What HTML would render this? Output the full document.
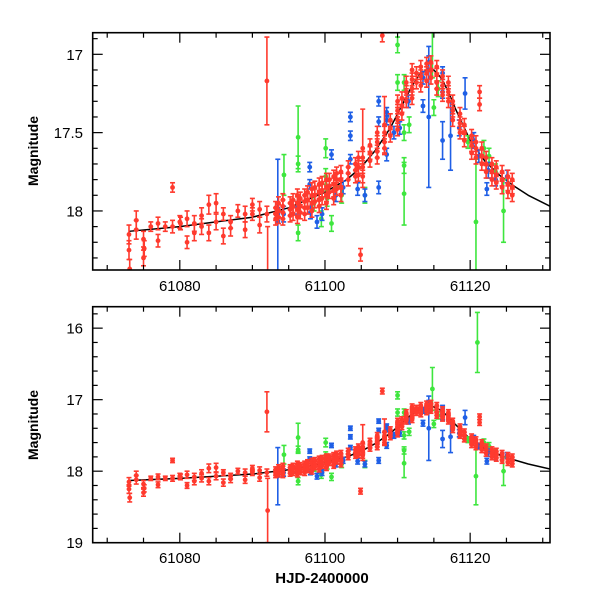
<!DOCTYPE html>
<html><head><meta charset="utf-8"><style>
html,body{margin:0;padding:0;background:#fff}
svg{display:block}
text{font-family:"Liberation Sans",sans-serif;fill:#000}
</style></head><body>
<svg id="chart" width="600" height="600" viewBox="0 0 600 600" xmlns="http://www.w3.org/2000/svg">
<defs>
<clipPath id="clipTop"><rect x="92.7" y="32.7" width="457.3" height="237.3"/></clipPath>
<clipPath id="clipBot"><rect x="92.7" y="306.7" width="457.3" height="236"/></clipPath>
</defs>
</svg>
<script>
// ---- data ----
const curveT=[61073,61080,61085,61090,61095,61100,61103,61105,61107,61109,61110,61111,61112,61113,61114,61115,61116,61117,61118,61119,61120,61122,61124,61126,61128,61131];
const curveM=[18.13,18.10,18.07,18.04,17.98,17.88,17.80,17.72,17.61,17.47,17.38,17.29,17.2,17.13,17.1,17.1,17.15,17.24,17.35,17.45,17.55,17.68,17.77,17.84,17.9,17.97];
const redT=[61073,61073,61073.1,61074,61074,61075,61075,61075.1,61076,61077,61077,61078,61079,61079,61080,61080.1,61081,61081,61082,61082,61083,61083,61084,61084,61085,61085,61086,61086,61087,61087,61088,61089,61089,61090,61090,61091,61091,61092,61092,61092.1,
61093.2,61093.2,61093.2,61093.6,61093.6,61093.6,61094.2,61094.2,61094.2,61094.2,61095.2,61095.2,61095.2,61095.6,61095.6,61095.6,61096.2,61096.2,61096.2,61096.2,61096.6,61096.6,61096.6,61097.2,61097.2,61097.2,61097.2,61097.6,61097.6,61097.6,61098.2,61098.2,61098.2,61098.2,61098.6,61098.6,61098.6,61099.2,61099.2,61099.2,61099.2,61099.6,61099.6,61099.6,61100.2,61100.2,61100.2,61100.2,61100.6,61100.6,61100.6,61101.2,61101.2,61101.2,61101.2,61101.6,61101.6,61101.6,61102.2,61102.2,61102.2,61102.2,61103.2,61103.2,61103.2,61104.2,61104.2,61104.2,61104.6,61104.6,61104.6,61104.9,61105.2,61105.2,61105.2,61105.2,61106.2,61106.2,61106.2,61107.2,61107.2,61107.2,61107.2,61107.9,61108.2,61108.2,61108.2,61108.2,61109,61109,61109,61110,61110,61110,61110,61110.6,61110.6,61110.6,61111.2,61111.2,61111.2,61112,61112,61112,61112,61112.6,61112.6,61113.2,61113.2,61113.2,61114,61114,61114,61114.6,61114.6,61114.6,61115.4,61115.4,61115.4,61115.4,61116.2,61116.2,61116.2,61117,61117,61117,61117.6,61117.6,61117.6,61118.6,61118.6,61118.6,61119.2,61119.2,61119.2,61120.2,61120.2,61120.2,61120.8,61120.8,61120.8,61121.3,61121.3,61121.6,61121.6,61121.6,61122.2,61122.2,61122.2,61123,61123,61123,61123.6,61123.6,61123.6,61124.4,61124.4,61124.4,61125.2,61125.2,61125.2,61125.8,61125.8,61125.8];
const redM=[18.15,18.25,18.37,18.06,18.12,18.18,18.3,18.24,18.1,18.08,18.19,18.1,17.85,18.1,18.07,18.08,18.2,18.05,18.14,18.08,18.03,18.1,17.96,18.14,17.95,18.07,18.02,18.16,18.07,18.11,18.0,18.02,18.12,17.96,18.02,17.99,18.09,17.17,18.02,18.55,
17.98,18.02,18.05,17.95,18.0,18.04,17.93,17.97,18.01,18.05,17.95,17.99,18.03,17.93,17.97,18.02,17.9,17.95,17.99,18.04,17.92,17.97,18.01,17.9,17.94,17.98,18.02,17.88,17.93,17.98,17.86,17.9,17.95,18.0,17.85,17.9,17.94,17.83,17.88,17.93,17.97,17.82,17.87,17.92,17.8,17.85,17.9,17.95,17.8,17.84,17.88,17.78,17.83,17.87,17.92,17.76,17.8,17.86,17.75,17.8,17.85,17.9,17.72,17.76,17.8,17.7,17.74,17.78,17.66,17.72,17.77,18.28,17.6,17.66,17.72,17.78,17.58,17.63,17.68,17.5,17.56,17.62,17.66,16.88,17.45,17.5,17.56,17.6,17.42,17.47,17.52,17.3,17.36,17.42,17.48,17.28,17.33,17.38,17.18,17.24,17.3,17.1,17.16,17.22,17.28,17.12,17.18,17.08,17.14,17.2,17.06,17.12,17.17,17.05,17.1,17.15,17.08,17.13,17.18,17.22,17.14,17.2,17.26,17.18,17.24,17.3,17.3,17.36,17.42,17.38,17.44,17.5,17.45,17.5,17.55,17.52,17.58,17.63,17.56,17.6,17.66,17.24,17.32,17.6,17.65,17.7,17.66,17.7,17.75,17.7,17.75,17.8,17.72,17.77,17.82,17.75,17.8,17.85,17.78,17.83,17.88,17.8,17.85,17.9];
const redE=[0.06,0.06,0.06,0.06,0.06,0.05,0.05,0.05,0.03,0.04,0.04,0.03,0.03,0.04,0.04,0.04,0.04,0.05,0.05,0.05,0.05,0.05,0.06,0.05,0.06,0.05,0.04,0.05,0.04,0.05,0.04,0.05,0.05,0.04,0.04,0.05,0.05,0.28,0.05,0.45,
0.04,0.04,0.04,0.04,0.04,0.04,0.04,0.04,0.04,0.04,0.04,0.04,0.04,0.04,0.04,0.04,0.04,0.04,0.04,0.04,0.04,0.04,0.04,0.04,0.04,0.04,0.04,0.04,0.04,0.04,0.04,0.04,0.04,0.04,0.04,0.04,0.04,0.04,0.04,0.04,0.04,0.04,0.04,0.04,0.04,0.04,0.04,0.04,0.04,0.04,0.04,0.04,0.04,0.04,0.04,0.04,0.04,0.04,0.04,0.04,0.04,0.04,0.04,0.04,0.04,0.04,0.04,0.04,0.04,0.04,0.04,0.04,0.25,0.04,0.04,0.04,0.04,0.04,0.04,0.04,0.04,0.04,0.04,0.04,0.18,0.04,0.04,0.04,0.04,0.04,0.04,0.04,0.04,0.04,0.04,0.04,0.04,0.04,0.04,0.04,0.04,0.04,0.04,0.04,0.04,0.04,0.04,0.04,0.04,0.04,0.04,0.04,0.04,0.04,0.04,0.04,0.04,0.04,0.04,0.04,0.04,0.04,0.04,0.04,0.04,0.04,0.04,0.04,0.04,0.04,0.04,0.04,0.04,0.04,0.04,0.04,0.04,0.04,0.04,0.04,0.04,0.04,0.04,0.04,0.04,0.04,0.04,0.04,0.04,0.04,0.04,0.04,0.04,0.04,0.04,0.04,0.04,0.04,0.04,0.04,0.04,0.04,0.04,0.04,0.04];
const blueT=[61093.5,61093.5,61094.3,61096.2,61097.9,61097.9,61098,61098.9,61099.6,61100.9,61101.5,61102.5,61103.5,61103.5,61103.5,61104.5,61105.5,61107.4,61107.4,61107.4,61108.5,61108.5,61108.5,61109.5,61110.3,61111.5,61113.5,61113.5,61114.3,61114.3,61116.2,61116.2,61116.2,61117.3,61118.5,61119.3,61120.5,61121.2,61122.3,61122.5,61123.5,61125.1];
const blueM=[18.02,18.07,18.02,17.98,17.72,17.83,18.01,18.07,18.02,17.64,17.9,17.85,17.4,17.52,17.67,17.86,17.9,17.3,17.43,17.85,17.37,17.42,17.64,17.5,17.47,17.3,17.15,17.33,17.05,17.4,17.12,17.24,17.55,17.52,17.47,17.25,17.55,17.65,17.86,17.74,17.8,17.78];
const blueE=[0.04,0.4,0.05,0.04,0.03,0.03,0.04,0.04,0.04,0.03,0.04,0.04,0.03,0.03,0.03,0.04,0.04,0.03,0.03,0.04,0.03,0.03,0.04,0.04,0.04,0.04,0.04,0.04,0.04,0.45,0.04,0.04,0.12,0.22,0.05,0.1,0.05,0.04,0.04,0.05,0.04,0.04];
const greenT=[61094.35,61096.3,61096.3,61096.3,61098.5,61099.5,61100.1,61100.1,61100.3,61100.9,61101.6,61102.3,61105.5,61110,61110,61110.9,61110.9,61110.9,61110.9,61111.6,61114.8,61115,61115.6,61119.7,61120.8,61121,61121.9,61122.6,61123.5,61124.6];
const greenM=[17.77,17.53,17.7,18.14,17.95,18.05,17.6,17.78,17.92,18.08,17.85,17.9,17.9,16.94,17.18,17.18,17.5,17.71,17.89,17.45,16.85,17.34,17.22,17.56,18.07,16.2,17.6,17.65,17.75,18.0];
const greenE=[0.13,0.2,0.05,0.05,0.05,0.05,0.06,0.05,0.05,0.05,0.05,0.05,0.05,0.05,0.05,0.05,0.05,0.05,0.2,0.05,0.3,0.05,0.05,0.04,0.4,0.42,0.05,0.05,0.05,0.2];
const xTicks=[61080,61100,61120];
const topYTicks=["17","17.5","18"];
const botYTicks=["16","17","18","19"];

// ---- layout ----
const svg=document.getElementById('chart');
const NS='http://www.w3.org/2000/svg';
const X0=92.7,X1=550,T0=61068,T1=61131;
function xs(t){return X0+(t-T0)/(T1-T0)*(X1-X0);}
const panels=[
 {id:'top',y0:32.7,y1:270,m0:16.862,m1:18.377,minor:0.1,ticks:topYTicks,clip:'clipTop',xlabY:291,mid:151},
 {id:'bottom',y0:306.7,y1:542.7,m0:15.7,m1:19,minor:0.2,ticks:botYTicks,clip:'clipBot',xlabY:563,mid:425}
];
function mk(tag,attrs,parent){const e=document.createElementNS(NS,tag);for(const k in attrs)e.setAttribute(k,attrs[k]);(parent||svg).appendChild(e);return e;}

panels.forEach(p=>{
 const ys=m=>p.y0+(m-p.m0)/(p.m1-p.m0)*(p.y1-p.y0);
 const g=mk('g',{});
 
 
 const data=mk('g',{'clip-path':'url(#'+p.clip+')'},g);
 
 
 function series(T,M,E,col,name){
  const sg=mk('g',{stroke:col,fill:col,'stroke-width':1.6},data);
  
  
  for(let i=0;i<T.length;i++){
   const x=xs(T[i]),y=ys(M[i]),ya=ys(M[i]-E[i]),yb=ys(M[i]+E[i]);
   const pt=mk('g',{},sg);
   
   
   mk('line',{x1:x,x2:x,y1:ya,y2:yb},pt);
   mk('line',{x1:x-2.5,x2:x+2.5,y1:ya,y2:ya},pt);
   mk('line',{x1:x-2.5,x2:x+2.5,y1:yb,y2:yb},pt);
   mk('circle',{cx:x,cy:y,r:2.4,stroke:'none'},pt);
  }
 }
 // model curve
 let d='';
 for(let i=0;i<curveT.length;i++){d+=(i?'L':'M')+xs(curveT[i]).toFixed(2)+','+ys(curveM[i]).toFixed(2);}
 const c=mk('path',{d:d,fill:'none',stroke:'#000','stroke-width':1.5,'stroke-linejoin':'round'},data);
 
 
 series(greenT,greenM,greenE,'#3ee63e','green');
 series(blueT,blueM,blueE,'#1f5fe6','blue');
 series(redT,redM,redE,'#ff3a2e','red');
 // frame
 const fr=mk('rect',{x:X0,y:p.y0,width:X1-X0,height:p.y1-p.y0,fill:'none',stroke:'#000','stroke-width':1.6},g);
 
 
 const tk=mk('g',{stroke:'#000','stroke-width':1.2},g);
 
 
 for(let t=61070;t<=61130;t+=5){
  const x=xs(t),L=(t%20===0)?10:5;
  mk('line',{x1:x,x2:x,y1:p.y1,y2:p.y1-L},tk);
  mk('line',{x1:x,x2:x,y1:p.y0,y2:p.y0+L},tk);
 }
 const mstart=Math.ceil(p.m0/p.minor-1e-6)*p.minor;
 for(let m=mstart;m<=p.m1+1e-6;m+=p.minor){
  const y=ys(m);
  const isMaj=p.ticks.some(v=>Math.abs(parseFloat(v)-m)<1e-6);
  const L=isMaj?10:5;
  mk('line',{x1:X0,x2:X0+L,y1:y,y2:y},tk);
  mk('line',{x1:X1,x2:X1-L,y1:y,y2:y},tk);
 }
 p.ticks.forEach(v=>{
  const t=mk('text',{x:83,y:ys(parseFloat(v))+5.5,'text-anchor':'end','font-size':15},g);
  t.textContent=v;
  
  
 });
 xTicks.forEach(v=>{
  const t=mk('text',{x:xs(v),y:p.xlabY,'text-anchor':'middle','font-size':15},g);
  t.textContent=v;
  
  
 });
 const yl=mk('text',{x:0,y:0,'text-anchor':'middle','font-size':14,'font-weight':'bold',transform:'translate(38,'+p.mid+') rotate(-90)'},g);
 yl.textContent='Magnitude';
 
 
});
const xt=mk('text',{x:322,y:583,'text-anchor':'middle','font-size':15,'font-weight':'bold'});
xt.textContent='HJD-2400000';


</script>
</body></html>
